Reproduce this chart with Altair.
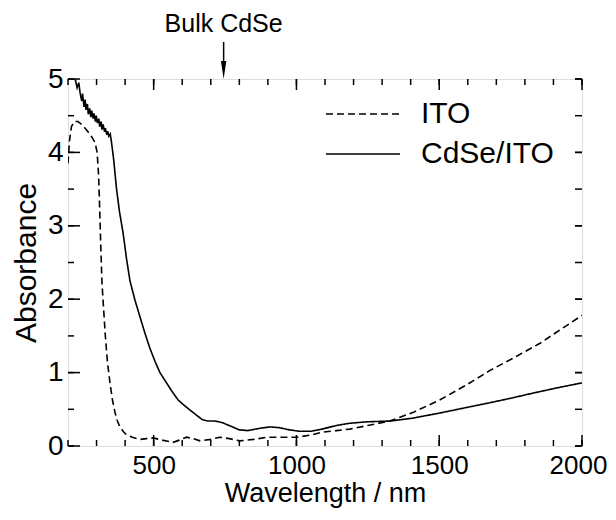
import altair as alt
import pandas as pd

# ---- data ----
ito_wl = [200, 205, 212, 222, 235, 248, 260, 272, 285, 295, 302, 307, 310, 315, 319, 325, 330, 338,
          347, 356, 365, 373, 382, 395, 406, 425, 452, 475, 498, 530, 568, 590, 615, 640, 662, 700,
          732, 765, 802, 850, 897, 950, 1002, 1050, 1093, 1140, 1187, 1250, 1327, 1410, 1503, 1590,
          1678, 1765, 1853, 1930, 2000]
ito_abs = [3.85, 4.15, 4.35, 4.42, 4.42, 4.38, 4.33, 4.27, 4.20, 4.13, 4.00, 3.70, 3.35, 2.70, 2.22,
           1.85, 1.54, 1.15, 0.86, 0.62, 0.45, 0.34, 0.26, 0.19, 0.15, 0.12, 0.09, 0.10, 0.11, 0.08,
           0.05, 0.08, 0.12, 0.10, 0.07, 0.09, 0.12, 0.10, 0.07, 0.09, 0.12, 0.12, 0.12, 0.15, 0.19,
           0.21, 0.23, 0.28, 0.34, 0.46, 0.63, 0.82, 1.03, 1.21, 1.40, 1.60, 1.78]

cdse_wl = [200, 215, 225, 232, 238, 242, 248, 251, 256, 260, 263, 268, 271, 276, 280, 283, 288, 291,
           296, 299, 303, 308, 311, 316, 319, 323, 328, 331, 336, 339, 343, 348, 352, 360, 370, 380,
           393, 405, 417, 435, 452, 470, 487, 505, 522, 545, 565, 585, 605, 627, 650, 670, 690, 715,
           739, 770, 800, 830, 870, 907, 940, 975, 1012, 1050, 1090, 1140, 1187, 1250, 1327, 1408,
           1503, 1590, 1678, 1750, 1828, 1910, 2000]
cdse_abs = [5.30, 5.10, 5.00, 4.88, 4.95, 4.82, 4.70, 4.80, 4.62, 4.72, 4.58, 4.66, 4.52, 4.60, 4.48,
            4.57, 4.46, 4.53, 4.42, 4.50, 4.40, 4.46, 4.35, 4.42, 4.31, 4.38, 4.28, 4.33, 4.24, 4.29,
            4.22, 4.25, 4.15, 3.90, 3.50, 3.20, 2.90, 2.55, 2.25, 1.98, 1.76, 1.53, 1.33, 1.15, 1.00,
            0.86, 0.74, 0.63, 0.56, 0.49, 0.42, 0.36, 0.34, 0.34, 0.32, 0.27, 0.22, 0.21, 0.24, 0.26,
            0.25, 0.22, 0.20, 0.20, 0.23, 0.28, 0.31, 0.33, 0.34, 0.38, 0.45, 0.52, 0.59, 0.65, 0.72,
            0.79, 0.86]

series_names = ["ITO", "CdSe/ITO"]
x_tick_labels = [500, 1000, 1500, 2000]
y_tick_labels = [0, 1, 2, 3, 4, 5]
x_minor = list(range(200, 2001, 100))
y_minor = [i * 0.5 for i in range(0, 11)]
bulk_label = "Bulk CdSe"
bulk_wavelength = 745

FONT = "Liberation Sans"
W, H = 514, 367

df = pd.concat([
    pd.DataFrame({"wl": ito_wl, "A": ito_abs, "series": series_names[0]}),
    pd.DataFrame({"wl": cdse_wl, "A": cdse_abs, "series": series_names[1]}),
])

xs = alt.Scale(domain=[200, 2000], nice=False, zero=False)
ys = alt.Scale(domain=[0, 5], nice=False)

lines = alt.Chart(df).mark_line(color="black", strokeWidth=1.6, clip=True).encode(
    x=alt.X("wl:Q", scale=xs,
            axis=alt.Axis(values=x_tick_labels, format="d", ticks=False, domain=False, grid=False,
                          labelFontSize=26, labelPadding=6, labelFlush=False, labelOverlap=False,
                          labelOffset={"condition": {"test": "datum.value === 2000", "value": -4},
                                       "value": 0},
                          labelFont=FONT, labelColor="black",
                          title="Wavelength / nm", titleFontSize=27, titleFont=FONT,
                          titleFontWeight="normal", titlePadding=2, titleColor="black")),
    y=alt.Y("A:Q", scale=ys,
            axis=alt.Axis(values=y_tick_labels, format="d", ticks=False, domain=False, grid=False,
                          labelFontSize=28, labelPadding=5, labelFont=FONT, labelColor="black",
                          labelFlush=False, labelOverlap=False,
                          title="Absorbance", titleFontSize=30, titleFont=FONT,
                          titleFontWeight="normal", titlePadding=6, titleColor="black")),
    strokeDash=alt.StrokeDash("series:N",
                              scale=alt.Scale(domain=series_names, range=[[7, 4], [1, 0]]),
                              legend=alt.Legend(title=None, orient="none", legendX=257, legendY=15,
                                                symbolType="stroke", symbolSize=5476,
                                                symbolStrokeWidth=1.5, symbolStrokeColor="black",
                                                clipHeight=40, rowPadding=0, padding=0,
                                                labelFontSize=30, labelFont=FONT, labelOffset=20,
                                                labelColor="black")),
    detail="series:N",
)

xmaj = pd.DataFrame({"t": x_tick_labels})
xmin = pd.DataFrame({"t": x_minor})
ymaj = pd.DataFrame({"t": y_tick_labels})
ymin = pd.DataFrame({"t": y_minor})

def xt(data, y0, y1):
    return alt.Chart(data).mark_rule(color="black", strokeWidth=1.5).encode(
        x=alt.X("t:Q", scale=xs), y=alt.value(y0), y2=alt.value(y1))

def yt(data, x0, x1):
    return alt.Chart(data).mark_rule(color="black", strokeWidth=1.5).encode(
        y=alt.Y("t:Q", scale=ys), x=alt.value(x0), x2=alt.value(x1))

ticks = [
    xt(xmin, H, H - 6), xt(xmaj, H, H - 11),
    xt(xmin, 0, 6), xt(xmaj, 0, 11),
    yt(ymin, 0, 6), yt(ymaj, 0, 12),
    yt(ymin, W, W - 7), yt(ymaj, W, W - 7),
]

ann = pd.DataFrame({"wl": [bulk_wavelength], "label": [bulk_label]})
shaft = alt.Chart(ann).mark_rule(color="black", strokeWidth=1.5).encode(
    x=alt.X("wl:Q", scale=xs), y=alt.value(-37), y2=alt.value(-12))
head = alt.Chart(ann).mark_point(shape="M -0.3 -1 L 0.3 -1 L 0 1 Z", filled=True, color="black",
                                 size=324, opacity=1).encode(
    x=alt.X("wl:Q", scale=xs), y=alt.value(-9))
label = alt.Chart(ann).mark_text(font=FONT, fontSize=25, color="black", baseline="alphabetic",
                                 align="center").encode(
    x=alt.X("wl:Q", scale=xs), y=alt.value(-47), text="label:N")

chart = alt.layer(lines, *ticks, shaft, head, label).properties(
    width=W, height=H,
    autosize=alt.AutoSizeParams(type="none"),
    padding={"left": 60, "top": 71, "right": 26, "bottom": 66},
).configure_view(stroke="black", strokeWidth=2).configure(background="white")

chart.save("out.html", embed_options={"renderer": "svg", "actions": False})
